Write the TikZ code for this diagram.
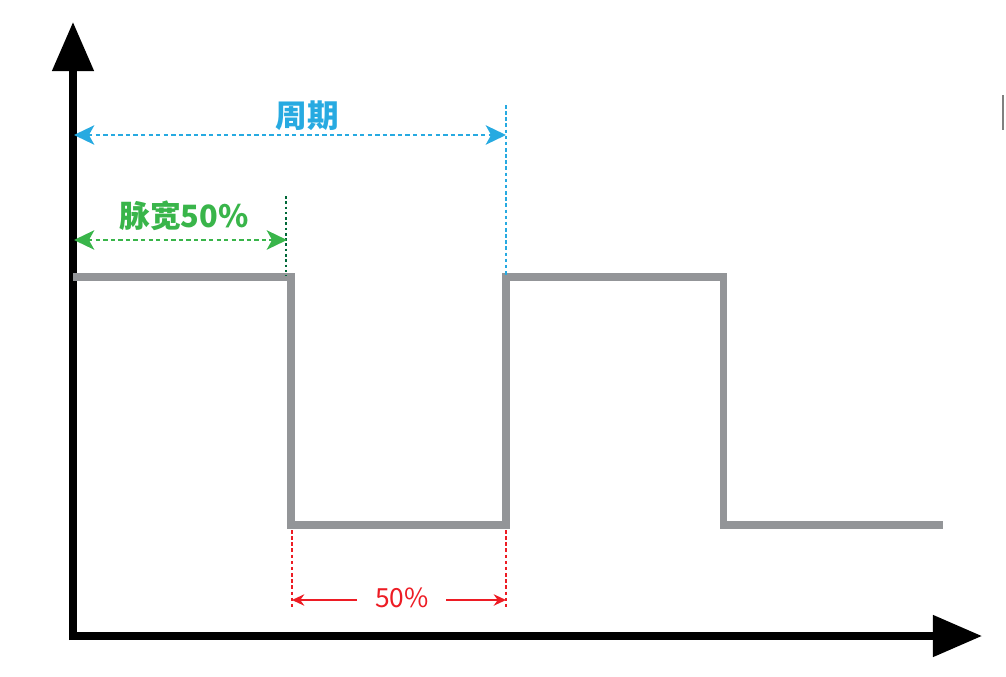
\documentclass[tikz,border=0pt]{standalone}
\usepackage{fontspec}
\setmainfont{Noto Sans CJK SC}
\usepackage{tikz}
\usetikzlibrary{arrows.meta}
\definecolor{wavegray}{HTML}{939598}
\definecolor{periodblue}{HTML}{27AAE1}
\definecolor{widthgreen}{HTML}{39B54A}
\definecolor{darkgreen}{HTML}{006838}
\definecolor{dutyred}{HTML}{ED1C24}
\tikzset{
  axis/.style={line width=4pt,-{Triangle[width=23pt,length=28pt]}},
  wave/.style={line width=4pt,wavegray,line join=miter},
  dimline/.style={line width=1.5pt,dash pattern=on 2.5pt off 1.8pt,{Stealth[length=11.5pt,width=11pt,inset=3pt]}-{Stealth[length=11.5pt,width=11pt,inset=3pt]}},
  guide/.style={line width=0.8pt,dash pattern=on 2pt off 1.5pt},
}
\begin{document}
\begin{tikzpicture}[x=0.02cm,y=-0.02cm]
\useasboundingbox (0,0) rectangle (1006,676);
% axes
\coordinate (o) at (73,640);
\coordinate (ytop) at (73,22);
\coordinate (xo) at (69,636);
\coordinate (xend) at (982,636);
\draw[axis] (o)--(ytop);
\draw[axis] (xo)--(xend);
% waveform
\coordinate (w0) at (73,277);
\coordinate (w1) at (291,277);
\coordinate (w2) at (291,525);
\coordinate (w3) at (506,525);
\coordinate (w4) at (506,277);
\coordinate (w5) at (723,277);
\coordinate (w6) at (723,525);
\coordinate (w7) at (943,525);
\draw[wave] (w0)--(w1)--(w2)--(w3)--(w4)--(w5)--(w6)--(w7);
% period
\coordinate (ptop) at (506,105);
\coordinate (pl) at (74,135);
\coordinate (pr) at (506,135);
\draw[guide,periodblue] (ptop)--(w4);
\draw[dimline,periodblue] (pl)--(pr);
\node[periodblue,font=\bfseries\fontsize{18}{20}\selectfont] (period) at (307,116) {周期};
% pulse width
\coordinate (gtop) at (286,196);
\coordinate (gbot) at (286,276);
\coordinate (gl) at (74,240);
\coordinate (gr) at (287,240);
\draw[guide,darkgreen,dash pattern=on 1.5pt off 1.5pt,line width=1pt] (gtop)--(gbot);
\draw[dimline,widthgreen] (gl)--(gr);
\node[widthgreen,font=\bfseries\fontsize{17.5}{20}\selectfont] (width) at (184,216) {脉宽50\%};
% duty 50%
\coordinate (r1top) at (292,530);
\coordinate (r1bot) at (292,607);
\coordinate (r2top) at (506,530);
\coordinate (r2bot) at (506,607);
\draw[guide,dutyred,line width=1pt] (r1top)--(r1bot);
\draw[guide,dutyred,line width=1pt] (r2top)--(r2bot);
\node[dutyred,font=\fontsize{15}{16}\selectfont] (duty) at (402,598) {50\%};
\coordinate (dl) at (292,600);
\coordinate (dr) at (506,600);
\draw[dutyred,line width=1.1pt,-{Stealth[length=7pt,width=6.5pt]}] (357,600)--(dl);
\draw[dutyred,line width=1.1pt,-{Stealth[length=7pt,width=6.5pt]}] (446,600)--(dr);
% edge mark
\coordinate (ma) at (1003,95);
\coordinate (mb) at (1003,130);
\draw[gray,line width=0.6pt] (ma)--(mb);
\end{tikzpicture}
\end{document}
